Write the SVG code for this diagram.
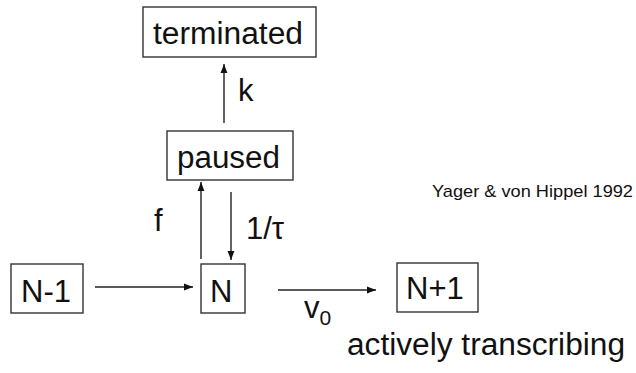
<svg xmlns="http://www.w3.org/2000/svg" width="636" height="373" viewBox="0 0 636 373">
<defs>
<marker id="ah" viewBox="0 0 10 10" refX="10" refY="5" markerWidth="9" markerHeight="9" markerUnits="userSpaceOnUse" orient="auto">
<path d="M0,1.2 L10,5 L0,8.8 z" fill="#111"/>
</marker>
<style>
.box{fill:#fff;stroke:#333;stroke-width:1.4}
.t{font-family:"Liberation Sans",Arial,sans-serif;font-size:31px;fill:#111}
.s{font-family:"Liberation Sans",Arial,sans-serif;font-size:17px;fill:#111}
.c{stroke:#222;stroke-width:1.4;fill:none;marker-end:url(#ah)}
</style>
</defs>
<rect width="636" height="373" fill="#fff"/>
<g id="connectors">
<line class="c" x1="224" y1="123" x2="224" y2="64"/>
<line class="c" x1="201" y1="259" x2="201" y2="182"/>
<line class="c" x1="231" y1="192" x2="231" y2="260"/>
<line class="c" x1="95" y1="287" x2="193" y2="287"/>
<line class="c" x1="278" y1="290" x2="376" y2="290"/>
<text class="t" x="238" y="101">k</text>
<text class="t" x="154" y="231">f</text>
<text class="t" x="246" y="239">1/τ</text>
<text class="t" x="304" y="318">v<tspan font-size="21" dy="7">0</tspan></text>
</g>
<g id="terminated">
<rect class="box" x="143" y="7" width="173" height="50"/>
<text class="t" x="153" y="44" textLength="150" lengthAdjust="spacingAndGlyphs">terminated</text>
</g>
<g id="paused">
<rect class="box" x="167" y="131" width="126" height="49"/>
<text class="t" x="177" y="168" textLength="103" lengthAdjust="spacingAndGlyphs">paused</text>
</g>
<g id="n-1">
<rect class="box" x="11" y="264" width="72" height="49"/>
<text class="t" x="21" y="302">N-1</text>
</g>
<g id="n">
<rect class="box" x="201" y="264" width="44" height="49"/>
<text class="t" x="210" y="302">N</text>
</g>
<g id="n+1">
<rect class="box" x="397" y="263" width="81" height="49"/>
<text class="t" x="406" y="299">N+1</text>
</g>
<text class="t" x="347" y="355" textLength="278" lengthAdjust="spacingAndGlyphs">actively transcribing</text>
<text class="s" x="432" y="197" textLength="201" lengthAdjust="spacingAndGlyphs">Yager &amp; von Hippel 1992</text>
</svg>
